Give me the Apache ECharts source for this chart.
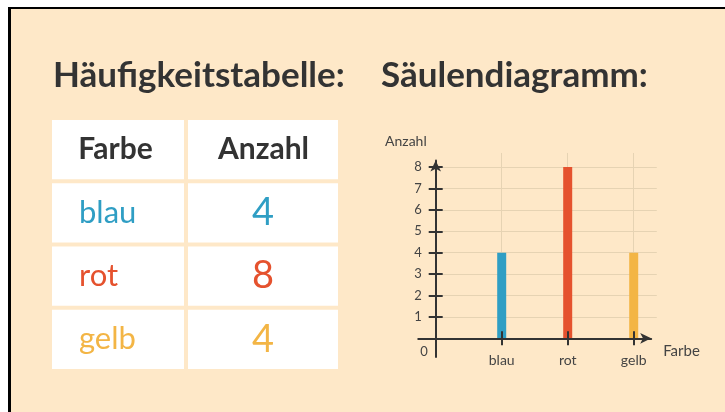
<!DOCTYPE html>
<html><head><meta charset="utf-8">
<script src="https://cdn.jsdelivr.net/npm/echarts@6/dist/echarts.min.js"></script>
<style>
html,body{margin:0;padding:0;background:#fff;width:725px;height:412px;overflow:hidden}
#frame{position:absolute;left:8px;top:7px;right:0;bottom:0;border-left:3px solid #000;border-top:2px solid #000;background:#fee8c8}
#main{position:absolute;left:0;top:0;width:725px;height:412px}
</style></head><body>
<div id="frame"></div><div id="main"></div>
<script>
// ---- data ----
const titles = ['Häufigkeitstabelle:', 'Säulendiagramm:'];
const tableHeader = ['Farbe', 'Anzahl'];
const categories = ['blau', 'rot', 'gelb'];
const counts = [4, 8, 4];
const yTickValues = [1, 2, 3, 4, 5, 6, 7, 8];
const xAxisName = 'Farbe';
const yAxisName = 'Anzahl';
const originLabel = '0';

// ---- styles / layout ----
const catColors = ['#2f9ec4', '#e5522e', '#f3b545'];
const FONT = 'Lato';
const TEXT_DARK = '#333333';
const AXIS_COLOR = '#333333';
const LABEL_COLOR = '#444444';
const GRID_COLOR = '#e6d3b3';
const ORIGIN_X = 435.7, ORIGIN_Y = 338.3, UX = 66, UY = 21.4;
const A = {xmin: 0, xmax: 3.35, ymin: 0, ymax: 8.66};          // gridlines + bars
const B = {xmin: -0.264, xmax: 3.265, ymin: -0.874, ymax: 8.31}; // axis lines
function gridFor(r) {
  return {
    left: ORIGIN_X + r.xmin * UX,
    top: ORIGIN_Y - r.ymax * UY,
    width: (r.xmax - r.xmin) * UX,
    height: (r.ymax - r.ymin) * UY,
    containLabel: false
  };
}
const TABLE = {left: 50, top: 118, width: 290, height: 253};
const COL_EDGES = [0, 0.469, 1];
const CELL_GAP = 2;
const HEADER_SHIFT = [-2.5, 0.5];

const tableRows = [tableHeader].concat(categories.map((c, i) => [c, String(counts[i])]));
const tableData = [];
tableRows.forEach((row, r) => row.forEach((txt, c) => tableData.push([c, r, txt])));

const tickStyle = {color: AXIS_COLOR, width: 2};
const labelStyle = {color: LABEL_COLOR, fontSize: 13, fontFamily: FONT};

const chart = echarts.init(document.getElementById('main'), null, {renderer: 'canvas'});
chart.setOption({
  backgroundColor: 'transparent',
  animation: false,
  title: [
    {text: titles[0], left: 53, top: 58, padding: 0,
     textStyle: {fontFamily: FONT, fontSize: 35, fontWeight: 'bold', color: TEXT_DARK}},
    {text: titles[1], left: 381, top: 58, padding: 0,
     textStyle: {fontFamily: FONT, fontSize: 35, fontWeight: 'bold', color: TEXT_DARK}}
  ],
  grid: [gridFor(A), gridFor(B), gridFor(A), TABLE],
  xAxis: [
    {type: 'value', gridIndex: 0, min: A.xmin, max: A.xmax, z: 0,
     axisLine: {show: false}, axisTick: {show: false, customValues: [1, 2, 3]},
     axisLabel: {show: false}, splitLine: {show: true, lineStyle: {color: GRID_COLOR, width: 1}}},
    {type: 'value', gridIndex: 1, min: B.xmin, max: B.xmax, z: 5,
     position: 'bottom', offset: B.ymin * UY,
     axisLine: {show: true, onZero: false, lineStyle: tickStyle, symbol: ['none', 'arrow'], symbolSize: [8, 11]},
     axisTick: {show: true, length: 7, customValues: [1, 2, 3], lineStyle: tickStyle},
     axisLabel: Object.assign({show: true, margin: 15, customValues: [1, 2, 3],
       formatter: v => categories[Math.round(v) - 1] || ''}, labelStyle, {fontSize: 14}),
     splitLine: {show: false},
     name: xAxisName, nameLocation: 'end', nameGap: 12,
     nameTextStyle: {color: LABEL_COLOR, fontSize: 15, fontFamily: FONT, verticalAlign: 'top', padding: [5, 0, 0, 0]}},
    {type: 'value', gridIndex: 2, min: A.xmin, max: A.xmax, z: 5,
     axisLine: {show: false}, axisTick: {show: true, inside: true, length: 7, customValues: [1, 2, 3], lineStyle: tickStyle},
     axisLabel: {show: false}, splitLine: {show: false}},
    {type: 'value', gridIndex: 3, min: 0, max: 1, show: false}
  ],
  yAxis: [
    {type: 'value', gridIndex: 0, min: A.ymin, max: A.ymax, z: 0,
     axisLine: {show: false}, axisTick: {show: false, customValues: yTickValues},
     axisLabel: {show: false}, splitLine: {show: true, lineStyle: {color: GRID_COLOR, width: 1}}},
    {type: 'value', gridIndex: 1, min: B.ymin, max: B.ymax, z: 5,
     position: 'left', offset: B.xmin * UX,
     axisLine: {show: true, onZero: false, lineStyle: tickStyle, symbol: ['none', 'arrow'], symbolSize: [8, 11]},
     axisTick: {show: true, length: 7, customValues: yTickValues, lineStyle: tickStyle},
     axisLabel: Object.assign({show: true, margin: 14, customValues: yTickValues}, labelStyle),
     splitLine: {show: false},
     name: yAxisName, nameLocation: 'end', nameGap: 12,
     nameTextStyle: {color: LABEL_COLOR, fontSize: 14, fontFamily: FONT, align: 'right', padding: [0, 9, 0, 0]}},
    {type: 'value', gridIndex: 2, min: A.ymin, max: A.ymax, z: 5,
     axisLine: {show: false}, axisTick: {show: true, inside: true, length: 7, customValues: yTickValues, lineStyle: tickStyle},
     axisLabel: {show: true, margin: 8, customValues: [0], formatter: () => '{z|' + originLabel + '}',
       rich: {z: {padding: [27, 0, 0, 0], color: LABEL_COLOR, fontSize: 13, fontFamily: FONT}}},
     splitLine: {show: false}},
    {type: 'category', gridIndex: 3, data: tableRows.map(r => r[0]), inverse: true, show: false}
  ],
  series: [
    {type: 'bar', xAxisIndex: 0, yAxisIndex: 0, barWidth: 9, z: 2,
     data: categories.map((c, i) => ({value: [i + 1, counts[i]], itemStyle: {color: catColors[i]}}))},
    {type: 'custom', xAxisIndex: 3, yAxisIndex: 3, data: tableData, z: 2,
     renderItem: function (params, api) {
       const c = api.value(0), r = api.value(1);
       const txt = tableData[params.dataIndex][2];
       const x0 = api.coord([COL_EDGES[c], r])[0];
       const x1 = api.coord([COL_EDGES[c + 1], r])[0];
       const yc = api.coord([0, r])[1];
       const h = api.size([0, 1])[1];
       let style;
       if (r === 0) {
         style = {text: txt, x: (x0 + x1) / 2 + HEADER_SHIFT[c], y: yc, align: 'center', verticalAlign: 'middle',
                  fill: TEXT_DARK, fontSize: 30, fontWeight: 'bold', fontFamily: FONT};
       } else if (c === 0) {
         style = {text: txt, x: x0 + 29, y: yc, align: 'left', verticalAlign: 'middle',
                  fill: catColors[r - 1], fontSize: 31, fontFamily: FONT};
       } else {
         style = {text: txt, x: (x0 + x1) / 2, y: yc, align: 'center', verticalAlign: 'middle',
                  fill: catColors[r - 1], fontSize: 38, fontFamily: FONT};
       }
       return {type: 'group', children: [
         {type: 'rect', shape: {x: x0 + CELL_GAP, y: yc - h / 2 + CELL_GAP, width: x1 - x0 - 2 * CELL_GAP, height: h - 2 * CELL_GAP},
          style: {fill: '#ffffff'}},
         {type: 'text', style: style}
       ]};
     }}
  ]
});
</script>
</body></html>
